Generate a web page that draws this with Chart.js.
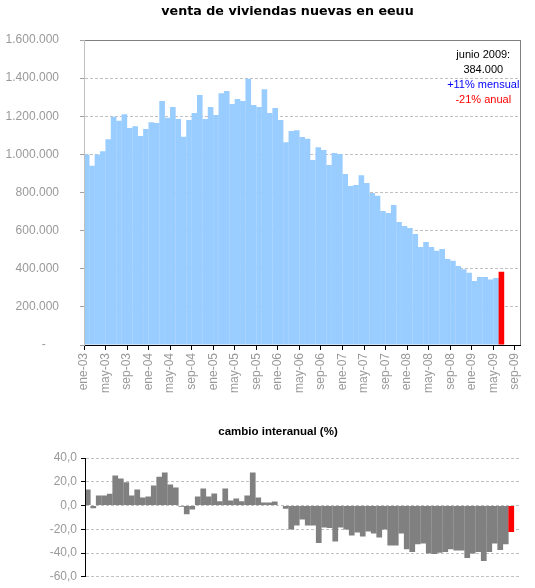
<!DOCTYPE html>
<html><head><meta charset="utf-8">
<script src="https://cdn.jsdelivr.net/npm/chart.js@4.4.0/dist/chart.umd.min.js"></script>
<style>
html,body{margin:0;padding:0;background:#fff;}
#top{position:absolute;left:0;top:0;}
#bot{position:absolute;left:0;top:420px;}
</style></head><body>
<canvas id="top" width="535" height="405"></canvas>
<canvas id="bot" width="535" height="168"></canvas>
<script>
const tituloVentas = 'venta de viviendas nuevas en eeuu';
const tituloCambio = 'cambio interanual (%)';
const notaLineas = ['junio 2009:', '384.000', '+11% mensual', '-21% anual'];
const notaColores = ['#000000', '#000000', '#0000FF', '#FF0000'];

const meses = [
 'ene-03','feb-03','mar-03','abr-03','may-03','jun-03','jul-03','ago-03','sep-03','oct-03','nov-03','dic-03',
 'ene-04','feb-04','mar-04','abr-04','may-04','jun-04','jul-04','ago-04','sep-04','oct-04','nov-04','dic-04',
 'ene-05','feb-05','mar-05','abr-05','may-05','jun-05','jul-05','ago-05','sep-05','oct-05','nov-05','dic-05',
 'ene-06','feb-06','mar-06','abr-06','may-06','jun-06','jul-06','ago-06','sep-06','oct-06','nov-06','dic-06',
 'ene-07','feb-07','mar-07','abr-07','may-07','jun-07','jul-07','ago-07','sep-07','oct-07','nov-07','dic-07',
 'ene-08','feb-08','mar-08','abr-08','may-08','jun-08','jul-08','ago-08','sep-08','oct-08','nov-08','dic-08',
 'ene-09','feb-09','mar-09','abr-09','may-09','jun-09','jul-09','ago-09','sep-09'
];

const ventas = [
 1000000, 940000,1000000,1017000,1080000,1197000,1176000,1211000,1138000,1148000,1096000,1133000,
 1168000,1164000,1280000,1192000,1248000,1185000,1093000,1180000,1217000,1311000,1185000,1248000,
 1206000,1321000,1332000,1264000,1290000,1280000,1397000,1259000,1248000,1342000,1217000,1243000,
 1180000,1064000,1122000,1127000,1091000,1082000, 970000,1038000,1023000, 944000,1007000,1002000,
  897000, 834000, 839000, 891000, 850000, 797000, 783000, 703000, 692000, 734000, 645000, 624000,
  614000, 582000, 514000, 540000, 514000, 495000, 503000, 451000, 442000, 414000, 397000, 379000,
  336000, 357000, 357000, 343000, 351000, 384000
];

const mesesCambio = meses.slice(0, 79);
const cambio = [
 13.4, -2.2,  8.4,  8.4, 10.0, 25.2, 22.7, 19.6,  8.4, 13.4,  6.7,  7.6,
 16.8, 24.3, 27.7, 17.6, 15.1, -1.1, -7.3, -3.4,  7.6, 14.3,  7.6, 10.1,
  3.6, 14.3,  4.2,  5.9,  3.6,  8.4, 27.7,  6.7,  2.5,  2.5,  3.4, -0.3,
 -2.8,-20.1,-16.8,-11.7,-16.8,-16.8,-31.6,-18.5,-19.0,-30.2,-18.5,-20.1,
-25.2,-22.7,-26.0,-21.8,-23.5,-26.9,-20.1,-33.6,-33.6,-23.5,-36.9,-39.2,
-32.7,-31.9,-40.3,-40.8,-39.7,-39.2,-36.9,-37.8,-37.8,-44.2,-40.3,-39.2,
-46.7,-39.2,-31.9,-37.5,-32.7,-22.2
];

const ventasTicks = [0, 200000, 400000, 600000, 800000, 1000000, 1200000, 1400000, 1600000];
const cambioTicks = [-60, -40, -20, 0, 20, 40];
const destacado = 'jun-09';

const FONT = 'Liberation Sans';
const fmtMiles = v => v === 0 ? '-    ' : String(v).replace(/\B(?=(\d{3})+(?!\d))/g, '.');

const decoVentas = {
  id: 'decoVentas',
  afterDraw(chart) {
    const {ctx, chartArea: a} = chart;
    ctx.save();
    ctx.strokeStyle = '#808080'; ctx.lineWidth = 1;
    const rx = Math.round(a.right) + 0.5;
    ctx.beginPath(); ctx.moveTo(rx, Math.round(a.top)); ctx.lineTo(rx, a.bottom); ctx.stroke();
    ctx.fillStyle = '#000';
    ctx.font = 'bold 12.7px "DejaVu Sans"';
    ctx.textAlign = 'center'; ctx.textBaseline = 'middle';
    ctx.fillText(tituloVentas, chart.width / 2 + 20, 12);
    ctx.font = '11px "' + FONT + '"';
    notaLineas.forEach((t, i) => {
      ctx.fillStyle = notaColores[i];
      ctx.fillText(t, a.right - 37, a.top + 15 + i * 15);
    });
    ctx.restore();
  }
};

const decoCambio = {
  id: 'decoCambio',
  afterDraw(chart) {
    const {ctx} = chart;
    ctx.save();
    ctx.fillStyle = '#000';
    ctx.font = 'bold 11.5px "' + FONT + '"';
    ctx.textAlign = 'center'; ctx.textBaseline = 'middle';
    ctx.fillText(tituloCambio, 278, 12);
    ctx.restore();
  }
};

new Chart(document.getElementById('top'), {
  type: 'bar',
  data: {
    labels: meses,
    datasets: [{
      data: ventas,
      backgroundColor: c => meses[c.dataIndex] === destacado ? '#FF0000' : '#99CCFF',
      borderWidth: 0,
      categoryPercentage: 1,
      barPercentage: 1.04
    }]
  },
  options: {
    responsive: false, animation: false,
    layout: {padding: {top: 40, right: 5, left: 0, bottom: 0}},
    plugins: {legend: {display: false}, tooltip: {enabled: false}, title: {display: false}},
    scales: {
      x: {
        type: 'category', offset: true,
        grid: {display: true, drawOnChartArea: false, offset: true, tickLength: 5,
               tickColor: c => (c.index % 4 === 0 && c.index < meses.length) ? '#000' : 'rgba(0,0,0,0)'},
        border: {color: '#000', width: 1, z: 1},
        ticks: {autoSkip: false, maxRotation: 90, minRotation: 90, padding: 3, labelOffset: -2.75,
                color: '#999999', font: {family: FONT, size: 12},
                callback: (v, i) => i % 4 === 0 ? meses[i] : ''},
        afterFit: s => { s.height = 60; }
      },
      y: {
        min: 0, max: 1600000,
        afterBuildTicks: s => { s.ticks = ventasTicks.map(v => ({value: v})); },
        ticks: {color: '#999999', padding: 21, font: {family: FONT, size: 12}, callback: v => fmtMiles(v)},
        grid: {color: c => (c.tick && c.tick.value === 1600000) ? '#808080' : '#c0c0c0',
               tickColor: '#a0a0a0', tickLength: 4, tickBorderDash: []},
        border: {color: '#c0c0c0', z: 1, dash: c => (c.tick && c.tick.value === 1600000) ? [] : [3, 2]},
        afterFit: s => { s.width = 84; }
      }
    }
  },
  plugins: [decoVentas]
});

new Chart(document.getElementById('bot'), {
  type: 'bar',
  data: {
    labels: mesesCambio,
    datasets: [{
      data: cambio,
      backgroundColor: c => mesesCambio[c.dataIndex] === destacado ? '#FF0000' : '#808080',
      borderWidth: 0,
      categoryPercentage: 1,
      barPercentage: 1.04
    }]
  },
  options: {
    responsive: false, animation: false,
    layout: {padding: {top: 38, right: 15.5, left: 0, bottom: 10}},
    plugins: {legend: {display: false}, tooltip: {enabled: false}, title: {display: false}},
    scales: {
      x: {display: false, offset: true},
      y: {
        min: -60, max: 40,
        afterBuildTicks: s => { s.ticks = cambioTicks.map(v => ({value: v})); },
        ticks: {color: '#999999', padding: 4, font: {family: FONT, size: 12},
                callback: v => v.toFixed(1).replace('.', ',')},
        grid: {color: '#c0c0c0', tickColor: '#000', tickLength: 4, tickBorderDash: []},
        border: {color: '#000', z: 1, dash: [3, 2]},
        afterFit: s => { s.width = 85; }
      }
    }
  },
  plugins: [decoCambio]
});
</script>
</body></html>
